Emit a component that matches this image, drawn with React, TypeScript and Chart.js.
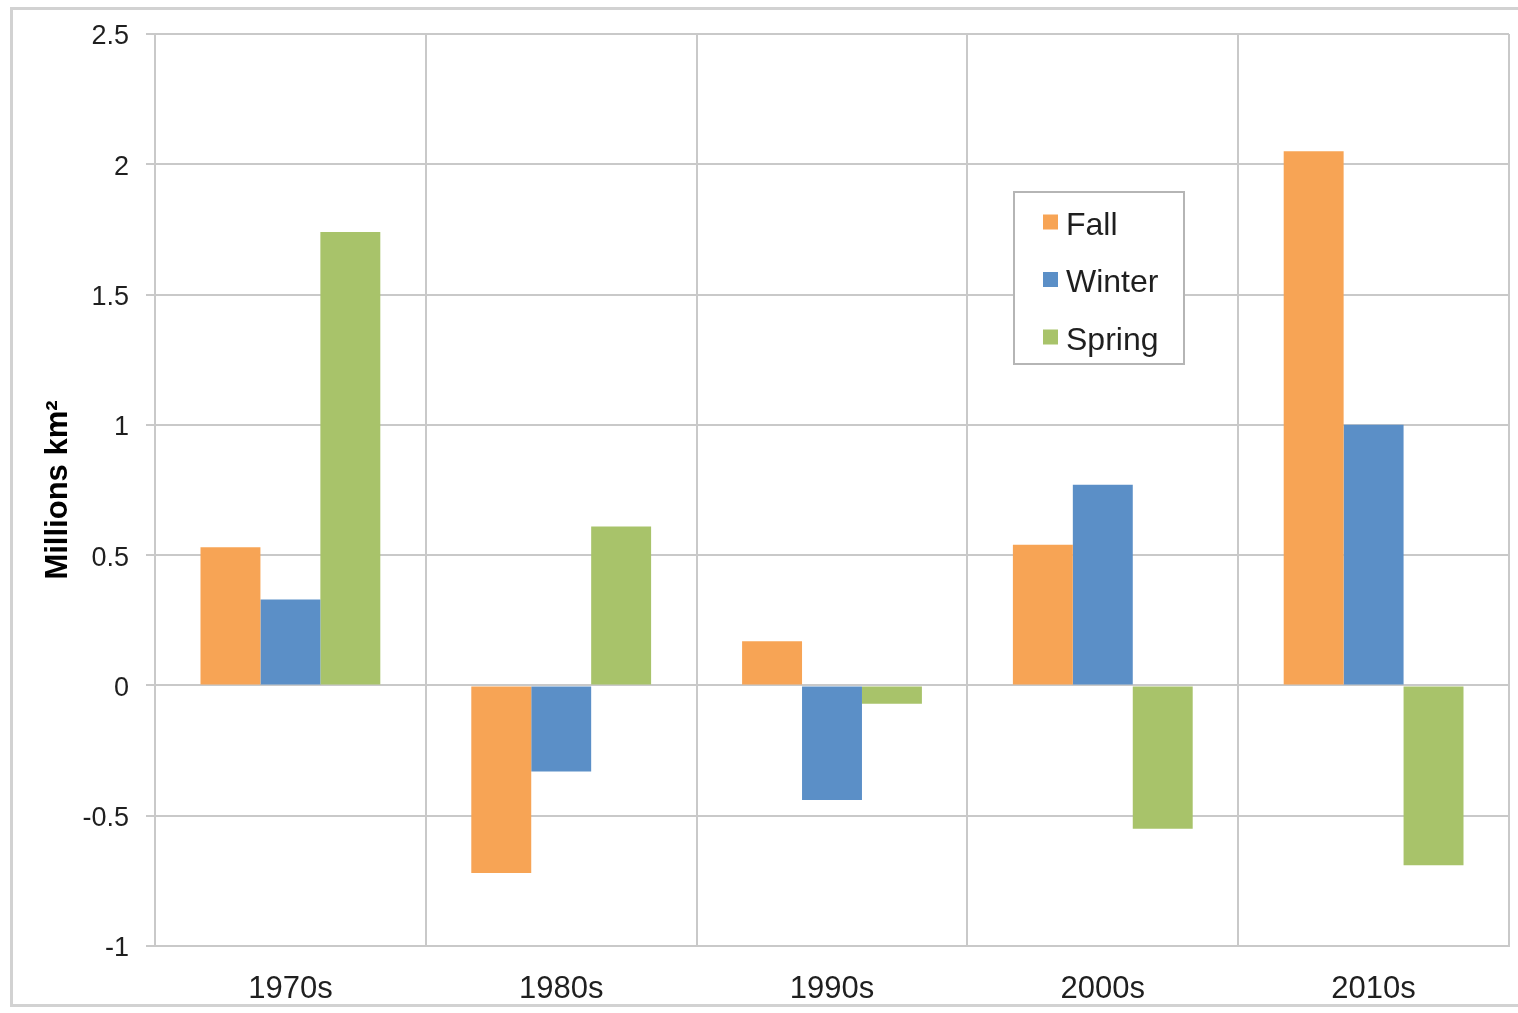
import React, { useEffect, useRef } from "react";
import { Chart, registerables } from "chart.js";

Chart.register(...registerables);

const categories = ["1970s", "1980s", "1990s", "2000s", "2010s"];
const seriesNames = ["Fall", "Winter", "Spring"];
const fallValues = [0.53, -0.72, 0.17, 0.54, 2.05];
const winterValues = [0.33, -0.33, -0.44, 0.77, 1.0];
const springValues = [1.74, 0.61, -0.07, -0.55, -0.69];
const seriesColors = ["#F7A455", "#5B8FC7", "#A8C36A"];
const yMin = -1;
const yMax = 2.5;
const yStep = 0.5;
const yTitle = "Millions km²";

const FONT = "'Liberation Sans', Arial, Helvetica, sans-serif";
const TEXT = "#1f1f1f";
const GRID = "#c9c9c9";

const framePlugin = {
  id: "frame",
  beforeDraw(chart: any) {
    const ctx = chart.ctx;
    ctx.save();
    ctx.fillStyle = "#ffffff";
    ctx.fillRect(0, 0, chart.width, chart.height);
    ctx.strokeStyle = "#d2d2d2";
    ctx.lineWidth = 3;
    ctx.strokeRect(11.5, 8.5, chart.width + 20, 997);
    ctx.restore();
  },
};

const legendBoxPlugin = {
  id: "legendBox",
  afterDatasetsDraw(chart: any) {
    const ctx = chart.ctx;
    const x = 1014;
    const y = 192;
    const w = 170;
    const h = 172;
    ctx.save();
    ctx.fillStyle = "#ffffff";
    ctx.fillRect(x, y, w, h);
    ctx.strokeStyle = "#b5b5b5";
    ctx.lineWidth = 2;
    ctx.strokeRect(x, y, w, h);
    ctx.font = `32px ${FONT}`;
    ctx.textBaseline = "middle";
    ctx.textAlign = "left";
    chart.data.datasets.forEach((ds: any, i: number) => {
      const cy = 222 + i * 57.5;
      ctx.fillStyle = ds.backgroundColor;
      ctx.fillRect(1043, cy - 7.5, 15, 15);
      ctx.fillStyle = TEXT;
      ctx.fillText(ds.label, 1066, cy + 4);
    });
    ctx.restore();
  },
};

export default function App() {
  const ref = useRef<HTMLCanvasElement>(null);

  useEffect(() => {
    document.body.style.margin = "0";
    const canvas = ref.current;
    if (!canvas) return;
    const values = [fallValues, winterValues, springValues];
    const chart = new Chart(canvas, {
      type: "bar",
      data: {
        labels: categories,
        datasets: seriesNames.map((name, i) => ({
          label: name,
          data: values[i],
          backgroundColor: seriesColors[i],
          borderWidth: 0,
          categoryPercentage: 0.664,
          barPercentage: 1.0,
        })),
      },
      options: {
        animation: false,
        responsive: false,
        maintainAspectRatio: false,
        layout: { padding: { left: 0, top: 34, right: 9, bottom: 0 } },
        plugins: {
          legend: { display: false },
          tooltip: { enabled: false },
        },
        scales: {
          x: {
            grid: {
              color: GRID,
              lineWidth: 2,
              drawTicks: false,
              offset: true,
            },
            border: { color: GRID, width: 2 },
            ticks: {
              color: TEXT,
              font: { family: FONT, size: 31 },
              padding: 25,
              maxRotation: 0,
            },
            afterFit(scale: any) {
              scale.height = 1013 - 946;
            },
          },
          y: {
            min: yMin,
            max: yMax,
            grid: {
              color: GRID,
              lineWidth: 2,
              drawTicks: true,
              tickLength: 9,
            },
            border: { color: GRID, width: 2 },
            ticks: {
              stepSize: yStep,
              color: TEXT,
              font: { family: FONT, size: 27 },
              padding: 17,
              labelOffset: 3,
              callback: (v: any) => String(Number(v)),
            },
            title: {
              display: true,
              text: yTitle,
              color: "#000",
              font: { family: FONT, size: 31, weight: "bold" },
              padding: { top: 40, bottom: 0 },
            },
            afterFit(scale: any) {
              scale.width = 155;
            },
          },
        },
      },
      plugins: [framePlugin, legendBoxPlugin],
    });
    return () => chart.destroy();
  }, []);

  return (
    <div style={{ width: 1518, height: 1013 }}>
      <canvas ref={ref} width={1518} height={1013} style={{ display: "block" }} />
    </div>
  );
}
